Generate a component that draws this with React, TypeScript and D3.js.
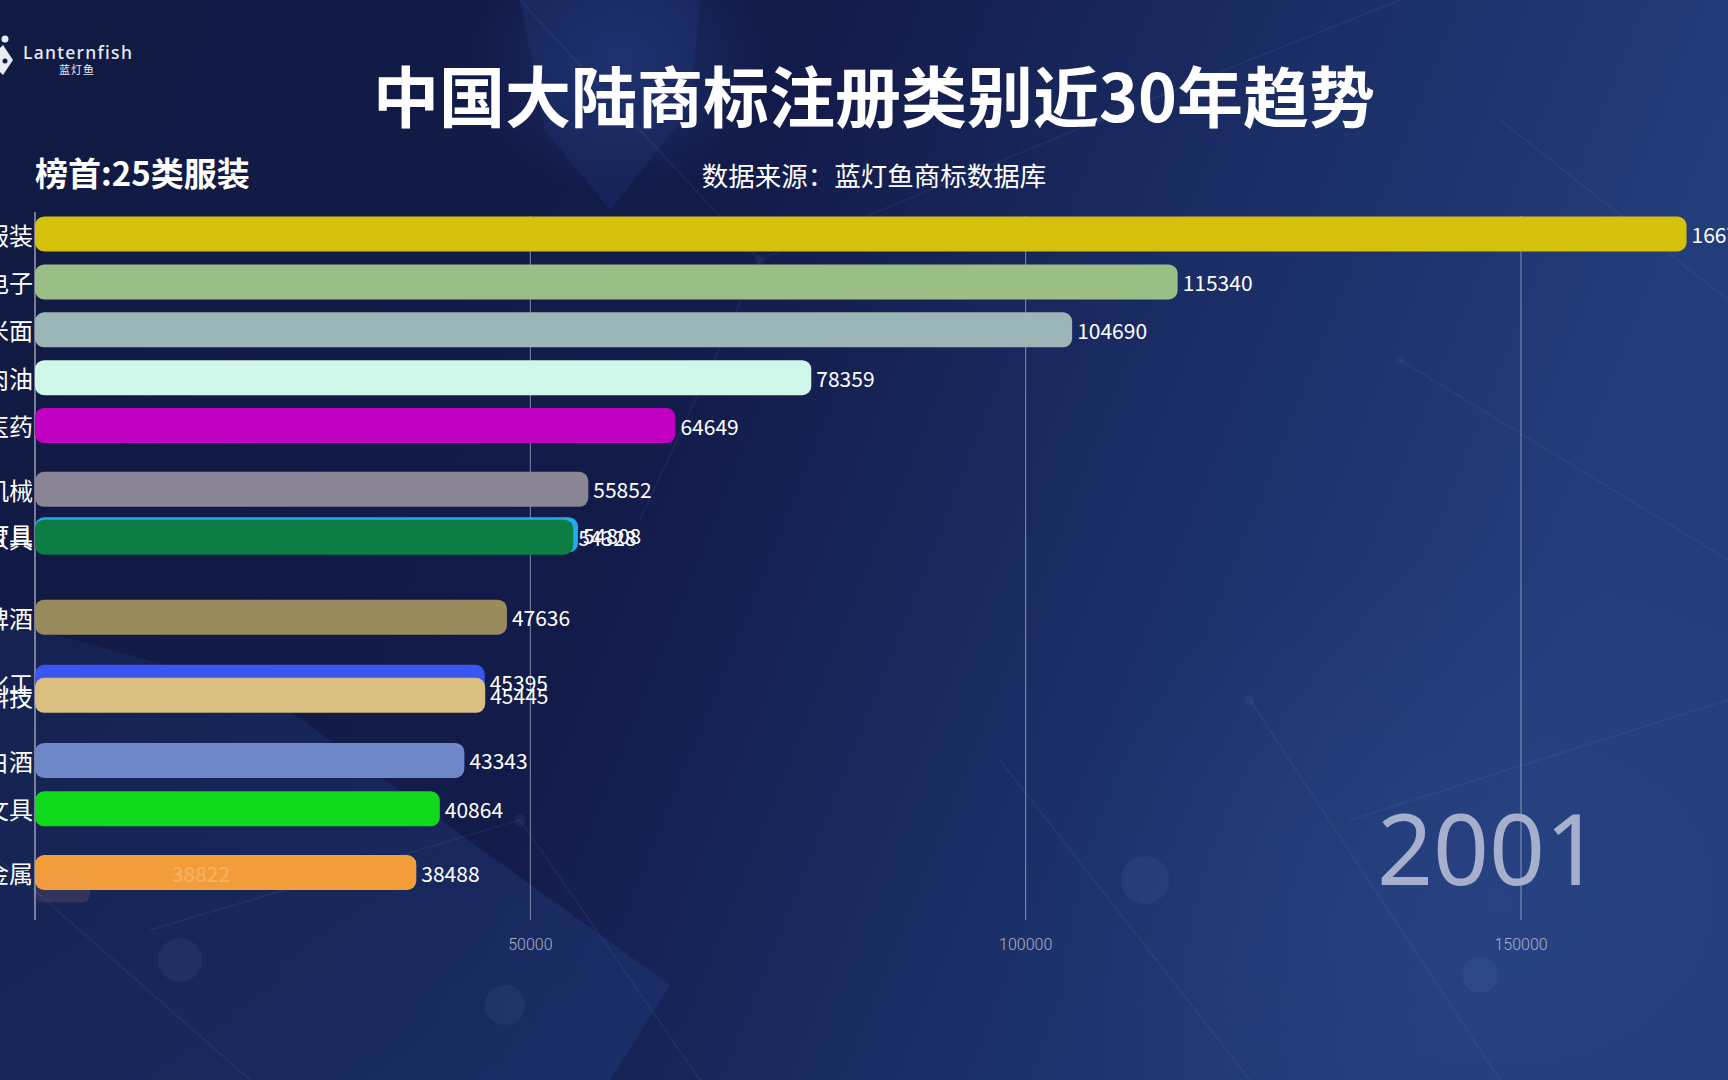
import React from "react";
import * as d3 from "d3";

const categories = ["25类服装", "9类电子", "30类米面", "29类肉油", "5类医药", "7类机械", "11类灯具", "20类家具", "32类啤酒", "1类化工", "42类科技", "33类白酒", "16类文具", "6类金属"];
const values = [166712, 115340, 104690, 78359, 64649, 55852, 54808, 54328, 47636, 45395, 45445, 43343, 40864, 38488];
const ranks = [0, 1, 2, 3, 4, 5.33, 6.28, 6.33, 8, 9.36, 9.63, 10.99, 12, 13.33];
const colors = ["#d5c00b", "#9bbd86", "#9cb6b8", "#cff8ea", "#c200c4", "#8a8594", "#22aaea", "#0b7d45", "#9a8b5f", "#3a56f2", "#d8bf80", "#6e87c9", "#10d81a", "#f29d3a"];
const tickValues = [50000, 100000, 150000];
const yearLabel = "2001";
const titleText = "中国大陆商标注册类别近30年趋势";
const subtitleText = "数据来源：蓝灯鱼商标数据库";
const leaderText = "榜首:25类服装";
const ghostLabel = "38822";

const W = 1728;
const H = 1080;

export default function App() {
  const x = d3.scaleLinear().domain([0, 150000]).range([35, 1521]);
  const y = d3.scaleLinear().domain([0, 1]).range([234, 281.9]);
  const barH = 35;
  const cjk = "'Noto Sans CJK SC', 'Noto Sans', sans-serif";

  const netLines: [number, number, number, number][] = [
    [520, 0, 760, 260], [760, 260, 1100, 120], [1100, 120, 1400, 0], [760, 260, 640, 520],
    [0, 860, 250, 1080], [150, 930, 520, 820], [520, 820, 700, 1080], [1000, 760, 1250, 1080],
    [1250, 700, 1500, 1080], [1350, 820, 1728, 700], [1400, 360, 1728, 560], [1500, 120, 1728, 300],
  ];
  const netDots: [number, number, number][] = [
    [760, 260, 5], [1100, 120, 4], [520, 820, 6], [180, 960, 22], [505, 1005, 20], [1145, 880, 24],
    [1480, 975, 18], [1250, 700, 5], [1400, 360, 4],
  ];

  return (
    <svg width={W} height={H} style={{ position: "absolute", left: 0, top: 0, display: "block" }}>
      <defs>
        <linearGradient id="bg" x1="0" y1="0" x2="1" y2="0.25">
          <stop offset="0" stopColor="#111a42" />
          <stop offset="0.45" stopColor="#131b4a" />
          <stop offset="0.7" stopColor="#1a2c63" />
          <stop offset="1" stopColor="#243e7d" />
        </linearGradient>
        <radialGradient id="topglow" cx="0.5" cy="0.5" r="0.5">
          <stop offset="0" stopColor="#22397a" stopOpacity="0.7" />
          <stop offset="1" stopColor="#22397a" stopOpacity="0" />
        </radialGradient>
        <radialGradient id="brglow" cx="0.5" cy="0.5" r="0.5">
          <stop offset="0" stopColor="#2a4585" stopOpacity="0.55" />
          <stop offset="1" stopColor="#2a4585" stopOpacity="0" />
        </radialGradient>
        <linearGradient id="bl" x1="0" y1="0" x2="1" y2="1">
          <stop offset="0" stopColor="#172656" />
          <stop offset="1" stopColor="#1d3571" />
        </linearGradient>
      </defs>
      <rect x={0} y={0} width={W} height={H} fill="url(#bg)" />
      <polygon points="520,0 700,0 690,110 610,210 545,130" fill="#1d3270" opacity={0.4} />
      <ellipse cx={620} cy={60} rx={150} ry={130} fill="url(#topglow)" />
      <polygon points="0,620 260,690 670,985 610,1080 0,1080" fill="url(#bl)" opacity={0.65} />
      <ellipse cx={1500} cy={900} rx={450} ry={350} fill="url(#brglow)" />
      {netLines.map((l, i) => (
        <line key={"nl" + i} x1={l[0]} y1={l[1]} x2={l[2]} y2={l[3]} stroke="#8fa6e0" strokeOpacity={0.07} strokeWidth={2} />
      ))}
      {netDots.map((d, i) => (
        <circle key={"nd" + i} cx={d[0]} cy={d[1]} r={d[2]} fill="#8fa6e0" opacity={0.07} />
      ))}

      {/* logo */}
      <circle cx={5} cy={39} r={3.5} fill="#e8ecf5" />
      <polygon points="-12,60 3,45 13,60 3,75" fill="#e8ecf5" />
      <circle cx={5} cy={61} r={2.5} fill="#111a43" />
      <text x={23} y={59} fill="#e8ecf5" fontSize={17.5} fontWeight={500} fontFamily="'Noto Sans', sans-serif" letterSpacing={1.3}>Lanternfish</text>
      <text x={77} y={74} fill="#e8ecf5" fontSize={11} fontFamily={cjk} textAnchor="middle" letterSpacing={1}>蓝灯鱼</text>

      {/* titles */}
      <text x={874} y={93} fill="#ffffff" fontSize={66} fontWeight={700} fontFamily={cjk} textAnchor="middle" dominantBaseline="central">{titleText}</text>
      <text x={35} y={172} fill="#ffffff" fontSize={33} fontWeight={700} fontFamily={cjk} dominantBaseline="central">{leaderText}</text>
      <text x={874} y={174} fill="#ffffff" fontSize={26.5} fontFamily={cjk} textAnchor="middle" dominantBaseline="central">{subtitleText}</text>

      {/* grid */}
      {tickValues.map((t) => (
        <g key={"t" + t}>
          <line x1={x(t)} x2={x(t)} y1={216} y2={920} stroke="#c9d0e2" strokeOpacity={0.6} strokeWidth={1} />
          <text x={x(t)} y={944} fill="#a9b1c9" fontSize={16} fontWeight={300} fontFamily="Roboto, sans-serif" textAnchor="middle" dominantBaseline="central">{t}</text>
        </g>
      ))}
      <line x1={x(0)} x2={x(0)} y1={212} y2={920} stroke="#d6dbe8" strokeOpacity={0.85} strokeWidth={1.2} />

      {/* year */}
      <text x={1489} y={885} fill="#a6b0cc" fontSize={98} fontFamily="'Noto Sans', 'Open Sans', sans-serif" textAnchor="middle">{yearLabel}</text>

      {/* bars */}
      {categories.map((c, i) => {
        const cy = y(ranks[i]);
        return (
          <g key={c}>
            <rect x={x(0)} y={cy - barH / 2} width={x(values[i]) - x(0)} height={barH} rx={9} ry={9} fill={colors[i]} />
            <text x={x(values[i]) + 5} y={cy} fill="#ffffff" fontSize={21} fontFamily={cjk} dominantBaseline="central">{values[i]}</text>
            <text x={x(0) - 2} y={cy} fill="#ffffff" fontSize={24} fontFamily={cjk} textAnchor="end" dominantBaseline="central">{c}</text>
          </g>
        );
      })}
      <text x={201} y={y(ranks[13])} fill="#f6c07a" opacity={0.7} fontSize={21} fontFamily={cjk} textAnchor="middle" dominantBaseline="central">{ghostLabel}</text>
      <rect x={35} y={y(ranks[13])} width={55} height={30} rx={8} fill="#f29d7a" opacity={0.12} />
    </svg>
  );
}
